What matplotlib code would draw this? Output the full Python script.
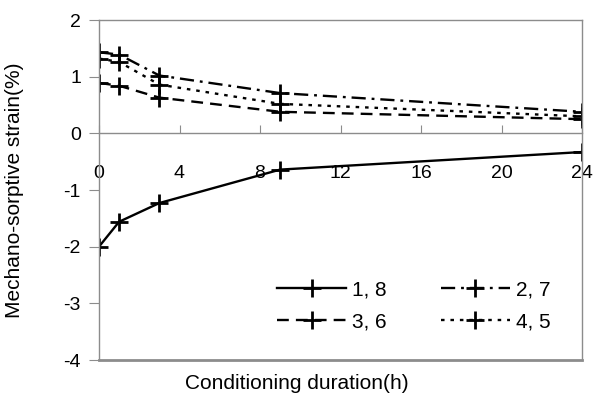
import numpy as np
import matplotlib
matplotlib.use('Agg')
import matplotlib.pyplot as plt

plt.rcParams['font.family'] = ['Liberation Sans', 'DejaVu Sans']
plt.rcParams['axes.unicode_minus'] = False

hours = [0, 1, 3, 9, 24]
s18 = [-2.0, -1.56, -1.23, -0.64, -0.33]
s27 = [1.43, 1.39, 1.02, 0.71, 0.38]
s36 = [0.89, 0.84, 0.63, 0.38, 0.25]
s45 = [1.32, 1.26, 0.86, 0.52, 0.30]

xticks = [0, 4, 8, 12, 16, 20, 24]
yticks = [-4, -3, -2, -1, 0, 1, 2]

fig = plt.figure(figsize=(5.94, 4.11), dpi=100)
ax = fig.add_axes([99/594, 1 - 360/411, (582 - 99)/594, (360 - 20)/411])

kw = dict(color='black', lw=1.7, marker='+', markersize=13, mew=2.0)
l1, = ax.plot(hours, s18, linestyle='-', label='1, 8', **kw)
l2, = ax.plot(hours, s27, linestyle=(0, (6, 2.5, 1.2, 2.5)), label='2, 7', **kw)
l3, = ax.plot(hours, s36, linestyle=(0, (5, 3)), label='3, 6', **kw)
l4, = ax.plot(hours, s45, linestyle=(0, (1.5, 2.5)), label='4, 5', **kw)

ax.set_xlim(0, 24)
ax.set_ylim(-4, 2)
ax.set_xticks(xticks)
ax.set_yticks(yticks)

for s in ax.spines.values():
    s.set_color('#8c8c8c')
    s.set_linewidth(1.0)
ax.spines['bottom'].set_position(('data', 0))
ax.axhline(-4, color='#8c8c8c', lw=2.0, clip_on=False)

ax.tick_params(axis='x', direction='in', length=6, color='#8c8c8c', pad=23, labelsize=14)
ax.tick_params(axis='y', direction='out', length=7, color='#8c8c8c', labelsize=14, pad=6)

ax.set_xlabel('Conditioning duration(h)', fontsize=15)
ax.xaxis.set_label_coords(0.41, -0.04)
ax.set_ylabel('Mechano-sorptive strain(%)', fontsize=15)
ax.yaxis.set_label_coords(-0.155, 0.5)

ax.legend([l1, l3, l2, l4], ['1, 8', '3, 6', '2, 7', '4, 5'],
          loc='lower left', bbox_to_anchor=(0.33, 0.03), ncol=2, frameon=False,
          fontsize=15, handlelength=3.3, columnspacing=2.6, handletextpad=0.3,
          labelspacing=0.6)

plt.savefig('out.png', dpi=100)
